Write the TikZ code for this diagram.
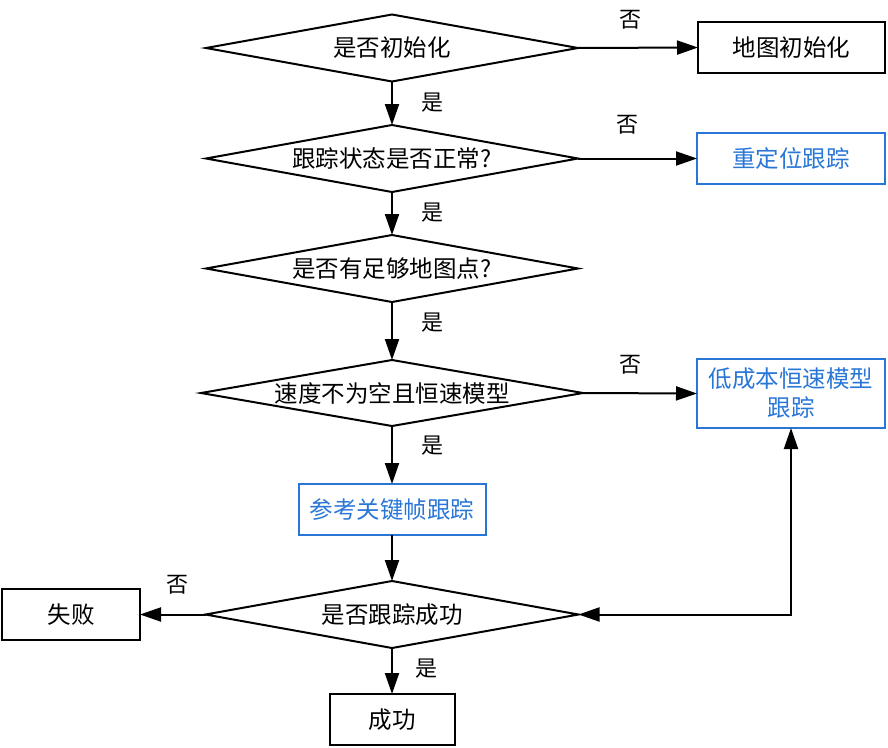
\documentclass[tikz,border=0pt]{standalone}
\usepackage{fontspec}
\setmainfont{Noto Sans CJK SC}
\usetikzlibrary{shapes.geometric,arrows.meta}
\definecolor{myblue}{RGB}{40,118,214}
\tikzset{
  base/.style={inner sep=0pt, outer sep=0pt, line width=2pt, font=\fontsize{23.5pt}{29pt}\selectfont},
  decision/.style={base, draw, shape=diamond, aspect=5.7},
  blackbox/.style={base, draw, rectangle, minimum height=51pt},
  bluebox/.style={base, draw=myblue, text=myblue, rectangle, minimum height=51pt, align=center},
  lbl/.style={inner sep=0pt, font=\fontsize{22pt}{24pt}\selectfont},
  conn/.style={line width=2pt, -{Triangle[length=21pt,width=14pt]}},
}
\begin{document}
\begin{tikzpicture}[x=1pt,y=-1pt]
\useasboundingbox (0,0) rectangle (888,747);
% decisions
\node[decision, minimum width=372pt, minimum height=67pt] (d1) at (392,48) {是否初始化};
\node[decision, minimum width=372pt, minimum height=67pt] (d2) at (392,158.5) {跟踪状态是否正常?};
\node[decision, minimum width=372pt, minimum height=67pt] (d3) at (392,268.5) {是否有足够地图点?};
\node[decision, minimum width=382pt, minimum height=66pt] (d4) at (392,393) {速度不为空且恒速模型};
\node[decision, minimum width=373pt, minimum height=67pt] (d5) at (392,614.5) {是否跟踪成功};
% boxes
\node[blackbox, minimum width=187pt] (map) at (791.5,47.5) {地图初始化};
\node[bluebox, minimum width=188pt] (reloc) at (791,158.5) {重定位跟踪};
\node[bluebox, minimum width=188pt, minimum height=69pt] (motion) at (791,393.5) {低成本恒速模型\\跟踪};
\node[bluebox, minimum width=187pt] (ref) at (392,509.5) {参考关键帧跟踪};
\node[blackbox, minimum width=138pt] (fail) at (71,614.5) {失败};
\node[blackbox, minimum width=125pt] (ok) at (392,719.5) {成功};
\coordinate (corner) at (791,614.5);
% connectors
\draw[conn] (d1.east) -- (map.west);
\draw[conn] (d1.south) -- (d2.north);
\draw[conn] (d2.east) -- (reloc.west);
\draw[conn] (d2.south) -- (d3.north);
\draw[conn] (d3.south) -- (d4.north);
\draw[conn] (d4.east) -- (motion.west);
\draw[conn] (d4.south) -- (ref.north);
\draw[conn] (ref.south) -- (d5.north);
\draw[conn] (d5.west) -- (fail.east);
\draw[conn] (d5.south) -- (ok.north);
\draw[line width=2pt, {Triangle[length=21pt,width=14pt]}-{Triangle[length=21pt,width=14pt]}] (d5.east) -- (corner) -- (motion.south);
% labels
\node[lbl] (n1) at (630,20) {否};
\node[lbl] (y1) at (432,103) {是};
\node[lbl] (n2) at (627,125) {否};
\node[lbl] (y2) at (432,213) {是};
\node[lbl] (y3) at (432,323) {是};
\node[lbl] (n4) at (630,365) {否};
\node[lbl] (y4) at (432,446) {是};
\node[lbl] (n5) at (177,585) {否};
\node[lbl] (y5) at (426,669) {是};
\end{tikzpicture}
\end{document}
